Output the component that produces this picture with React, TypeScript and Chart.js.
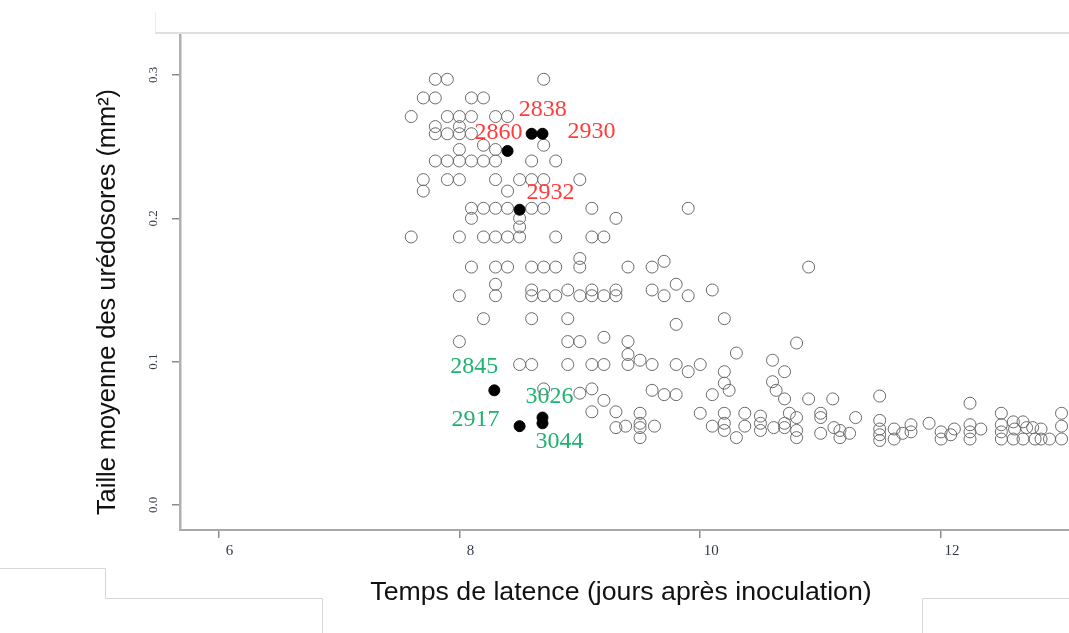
import { useEffect, useRef } from 'react';
import { Chart, registerables } from 'chart.js';

Chart.register(...registerables);

// Latency (days after inoculation) of each isolate — open circles
const latency = [
  7.8, 7.9, 8.7,
  7.7, 7.8, 8.1, 8.2,
  7.6, 7.9, 8.0, 8.1, 8.3, 8.4,
  7.8, 8.0,
  7.8, 7.9, 8.0, 8.1,
  8.2, 8.7, 8.0, 8.3,
  7.8, 7.9, 8.0, 8.1, 8.2, 8.3, 8.6, 8.8,
  7.7, 7.9, 8.0, 8.3, 8.5, 8.6, 8.7, 9.0,
  7.7, 8.4,
  8.1, 8.2, 8.3, 8.4, 8.6, 8.7, 9.1, 9.9,
  8.1, 8.5, 9.3,
  8.5,
  7.6, 8.0, 8.2, 8.3, 8.4, 8.5, 8.8, 9.1, 9.2,
  9.0, 9.0,
  8.1, 8.3, 8.4, 8.6, 8.7, 8.8, 9.4, 9.6, 9.7, 10.9,
  8.3, 8.3, 8.0, 8.6, 8.6, 8.7, 8.8,
  8.9, 9.0, 9.1, 9.1, 9.2, 9.3, 9.3, 9.6, 9.7, 9.8, 9.9, 10.1,
  8.2, 8.6, 8.9, 9.8, 10.2,
  8.0, 8.9, 9.0, 9.2, 9.4, 10.8,
  9.4, 9.5, 9.6, 9.4, 8.5, 8.6, 8.9, 9.1, 9.2, 9.8, 9.9, 10.0, 10.3, 10.2, 10.6, 10.7,
  10.2, 10.24, 10.6, 10.63, 9.6, 9.7, 9.8, 10.1, 9.0, 9.1, 8.7, 9.2, 10.7, 10.9, 11.1,
  9.1, 9.3, 9.5, 10.0, 10.2, 10.37, 10.5, 10.74, 10.8, 11.0, 11.0, 11.29,
  9.3, 9.38, 9.5, 9.5, 9.62, 10.1, 10.2, 10.2, 10.37, 10.5, 10.5, 10.61, 10.7, 10.7, 10.8, 11.0, 11.11, 11.16, 11.24,
  9.5, 10.3, 10.8, 11.16,
  11.49, 11.49, 11.49, 11.49, 11.49,
  11.61, 11.61, 11.68, 11.75, 11.75,
  11.9,
  12.0, 12.0, 12.11, 12.08,
  12.24, 12.24, 12.24, 12.24, 12.33,
  12.5, 12.5, 12.5, 12.5,
  12.6, 12.61, 12.68, 12.71, 12.76, 12.83, 12.6, 12.68, 12.78, 12.83, 12.9,
  13.0, 13.0, 13.0,
];

// Mean uredosore size (mm²) of each isolate — open circles
const size = [
  0.297, 0.297, 0.297,
  0.284, 0.284, 0.284, 0.284,
  0.271, 0.271, 0.271, 0.271, 0.271, 0.271,
  0.264, 0.264,
  0.259, 0.259, 0.259, 0.259,
  0.251, 0.251, 0.248, 0.248,
  0.240, 0.240, 0.240, 0.240, 0.240, 0.240, 0.240, 0.240,
  0.227, 0.227, 0.227, 0.227, 0.227, 0.227, 0.227, 0.227,
  0.219, 0.219,
  0.207, 0.207, 0.207, 0.207, 0.207, 0.207, 0.207, 0.207,
  0.200, 0.200, 0.200,
  0.194,
  0.187, 0.187, 0.187, 0.187, 0.187, 0.187, 0.187, 0.187, 0.187,
  0.172, 0.166,
  0.166, 0.166, 0.166, 0.166, 0.166, 0.166, 0.166, 0.166, 0.170, 0.166,
  0.154, 0.146, 0.146, 0.150, 0.146, 0.146, 0.146,
  0.150, 0.146, 0.150, 0.146, 0.146, 0.150, 0.146, 0.150, 0.146, 0.154, 0.146, 0.150,
  0.130, 0.130, 0.130, 0.126, 0.130,
  0.114, 0.114, 0.114, 0.117, 0.114, 0.113,
  0.105, 0.101, 0.098, 0.098, 0.098, 0.098, 0.098, 0.098, 0.098, 0.098, 0.093, 0.098, 0.106, 0.093, 0.101, 0.093,
  0.085, 0.080, 0.086, 0.080, 0.080, 0.077, 0.077, 0.077, 0.078, 0.081, 0.081, 0.073, 0.074, 0.074, 0.074,
  0.065, 0.065, 0.064, 0.064, 0.064, 0.064, 0.062, 0.064, 0.061, 0.064, 0.061, 0.061,
  0.054, 0.055, 0.057, 0.054, 0.055, 0.055, 0.057, 0.052, 0.055, 0.057, 0.052, 0.054, 0.057, 0.054, 0.052, 0.050, 0.054, 0.052, 0.050,
  0.047, 0.047, 0.047, 0.047,
  0.076, 0.059, 0.053, 0.049, 0.045,
  0.053, 0.046, 0.050, 0.056, 0.051,
  0.057,
  0.051, 0.046, 0.053, 0.049,
  0.071, 0.056, 0.051, 0.046, 0.053,
  0.064, 0.056, 0.051, 0.046,
  0.058, 0.053, 0.058, 0.054, 0.054, 0.053, 0.046, 0.046, 0.046, 0.046, 0.046,
  0.064, 0.055, 0.046,
];

// Highlighted isolates (filled points)
const hlIds = ['2838', '2930', '2860', '2932', '2845', '3026', '2917', '3044'];
const hlLatency = [8.6, 8.69, 8.4, 8.5, 8.29, 8.69, 8.5, 8.69];
const hlSize = [0.259, 0.259, 0.247, 0.206, 0.08, 0.061, 0.055, 0.057];
const hlColors = ['#ff3b3b', '#ff3b3b', '#ff3b3b', '#ff3b3b', '#1fb36f', '#1fb36f', '#1fb36f', '#1fb36f'];
const hlLabelOffsets: [number, number][] = [
  [11, -24], [49, -2], [-9, -18], [31, -17],
  [-20, -24], [7, -21], [-44, -6], [17, 18],
];

const xTicks = [6, 8, 10, 12];
const yTicks = [0, 0.1, 0.2, 0.3];
const yTickLabels = ['0.0', '0.1', '0.2', '0.3'];

const xTitle = 'Temps de latence (jours après inoculation)';
const yTitle = 'Taille moyenne des urédosores (mm²)';

const decorPlugin = {
  id: 'decor',
  afterDraw(chart: any) {
    const ctx = chart.ctx as CanvasRenderingContext2D;
    ctx.save();
    // frame remnants
    ctx.strokeStyle = '#e0e0e0';
    ctx.lineWidth = 2;
    ctx.beginPath();
    ctx.moveTo(155, 33);
    ctx.lineTo(1069, 33);
    ctx.stroke();
    ctx.strokeStyle = '#ececec';
    ctx.lineWidth = 1;
    ctx.beginPath();
    ctx.moveTo(155.5, 12);
    ctx.lineTo(155.5, 33);
    ctx.stroke();
    ctx.strokeStyle = '#d6d6d6';
    ctx.beginPath();
    ctx.moveTo(0, 568.5);
    ctx.lineTo(105.5, 568.5);
    ctx.lineTo(105.5, 598.5);
    ctx.lineTo(322.5, 598.5);
    ctx.lineTo(322.5, 633);
    ctx.moveTo(1069, 598.5);
    ctx.lineTo(922.5, 598.5);
    ctx.lineTo(922.5, 633);
    ctx.stroke();

    // axis titles
    ctx.fillStyle = '#111111';
    ctx.font = '26.7px "Liberation Sans", Arial, sans-serif';
    ctx.textAlign = 'center';
    ctx.textBaseline = 'middle';
    ctx.fillText(xTitle, 621, 593);
    ctx.save();
    ctx.translate(108, 302);
    ctx.rotate(-Math.PI / 2);
    ctx.font = '25.4px "Liberation Sans", Arial, sans-serif';
    ctx.fillText(yTitle, 0, 0);
    ctx.restore();

    // isolate labels
    const meta = chart.getDatasetMeta(1);
    ctx.font = '24px "Liberation Serif", "Times New Roman", serif';
    meta.data.forEach((el: any, i: number) => {
      const [dx, dy] = hlLabelOffsets[i];
      ctx.fillStyle = hlColors[i];
      ctx.fillText(hlIds[i], el.x + dx, el.y + dy);
    });
    ctx.restore();
  },
};

export default function App() {
  const canvasRef = useRef<HTMLCanvasElement | null>(null);

  useEffect(() => {
    const canvas = canvasRef.current;
    if (!canvas) return;
    const chart = new Chart(canvas, {
      type: 'scatter',
      data: {
        datasets: [
          {
            data: latency.map((x, i) => ({ x, y: size[i] })),
            pointRadius: 6,
            pointBorderWidth: 1,
            pointBorderColor: '#6a6a6a',
            pointBackgroundColor: 'rgba(0,0,0,0)',
            showLine: false,
            order: 1,
          },
          {
            data: hlLatency.map((x, i) => ({ x, y: hlSize[i] })),
            pointRadius: 5.5,
            pointBorderWidth: 1,
            pointBorderColor: '#000000',
            pointBackgroundColor: '#000000',
            showLine: false,
            order: 0,
          },
        ],
      },
      options: {
        responsive: false,
        animation: false,
        events: [],
        layout: { autoPadding: false, padding: { top: 35, left: 0, right: 0, bottom: 0 } },
        plugins: {
          legend: { display: false },
          tooltip: { enabled: false },
        },
        scales: {
          x: {
            type: 'linear',
            min: 5.68,
            max: 13.062,
            afterBuildTicks: (s: any) => {
              s.ticks = xTicks.map((v) => ({ value: v }));
            },
            afterFit: (s: any) => {
              s.height = 103;
            },
            grid: {
              drawOnChartArea: false,
              drawTicks: true,
              tickLength: 8,
              color: '#8c8c8c',
              lineWidth: 1.5,
            },
            border: { display: true, color: '#a8a8a8', width: 2 },
            ticks: {
              font: { family: '"Liberation Serif", "Times New Roman", serif', size: 15 },
              color: '#353a48',
              padding: 4,
              labelOffset: 11,
              minRotation: 0,
              maxRotation: 0,
              callback: (v: any) => String(v),
            },
          },
          y: {
            type: 'linear',
            min: -0.01745,
            max: 0.3279,
            afterBuildTicks: (s: any) => {
              s.ticks = yTicks.map((v) => ({ value: v }));
            },
            afterFit: (s: any) => {
              s.width = 180;
            },
            grid: {
              drawOnChartArea: false,
              drawTicks: true,
              tickLength: 8,
              color: '#8c8c8c',
              lineWidth: 1.5,
            },
            border: { display: true, color: '#b0b0b0', width: 2.5 },
            ticks: {
              font: { family: '"Liberation Serif", "Times New Roman", serif', size: 13 },
              color: '#353a48',
              padding: 10,
              minRotation: 90,
              maxRotation: 90,
              crossAlign: 'center',
              callback: (_v: any, i: number) => yTickLabels[i],
            },
          },
        },
      },
      plugins: [decorPlugin],
    });
    return () => chart.destroy();
  }, []);

  return (
    <div style={{ position: 'absolute', left: 0, top: 0, width: 1069, height: 633, background: '#ffffff' }}>
      <canvas ref={canvasRef} width={1069} height={633} style={{ display: 'block' }} />
    </div>
  );
}
